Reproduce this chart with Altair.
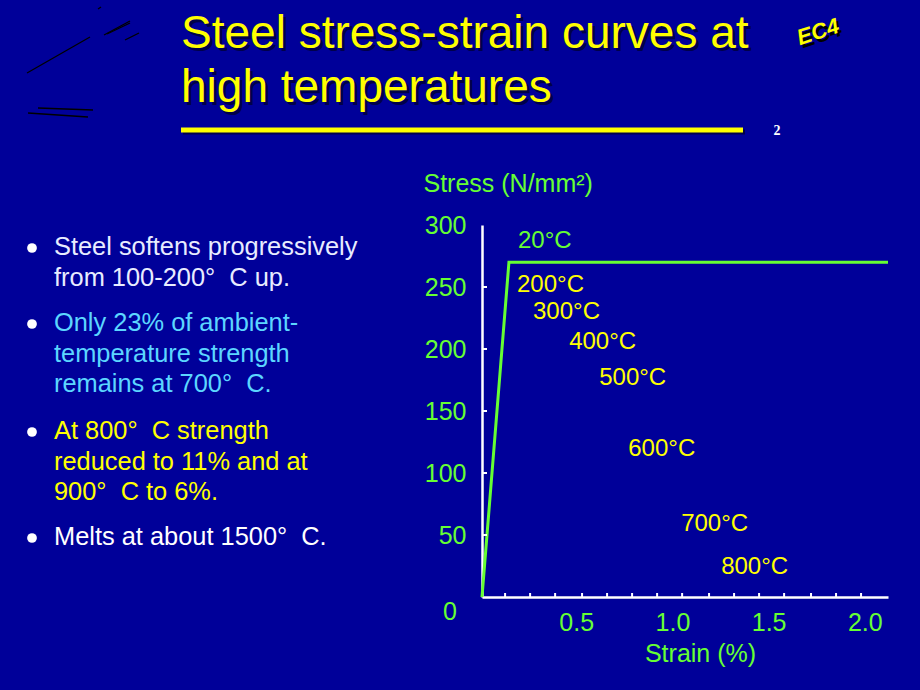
import altair as alt
import pandas as pd

# ---- data ----
strain = [0.0, 0.14, 2.11]
stress = [0, 270, 270]

temp_labels = ["20°C", "200°C", "300°C", "400°C", "500°C", "600°C", "700°C", "800°C"]
label_strain = [0.187, 0.182, 0.265, 0.453, 0.609, 0.760, 1.035, 1.243]
label_stress = [287, 252, 230, 206, 177, 119, 59, 24]

x_label_values = [0.5, 1.0, 1.5, 2.0]
y_label_values = [0, 50, 100, 150, 200, 250, 300]
x_minor_ticks = [0.12, 0.25, 0.38, 0.52, 0.65, 0.78, 0.91, 1.04, 1.18, 1.31, 1.44, 1.57, 1.71, 1.84, 1.97]
y_minor_ticks = [50, 100, 150, 200, 250]

title_lines = ["Steel stress-strain curves at", "high temperatures"]
bullets = [
    ["Steel softens progressively", "from 100-200°\u00a0\u00a0C up."],
    ["Only 23% of ambient-", "temperature strength", "remains at 700°\u00a0\u00a0C."],
    ["At 800°\u00a0\u00a0C strength", "reduced to 11% and at", "900°\u00a0\u00a0C to 6%."],
    ["Melts at about 1500°\u00a0\u00a0C."],
]

# ---- layout ----
OX, OY = 482, 225          # plot origin in page pixels
W, H = 406, 372
BG = "#000099"
GREEN = "#66FF33"
YELLOW = "#FFFF00"
FONT = "Liberation Sans"
XS = alt.Scale(domain=[0, 2.11], nice=False)
YS = alt.Scale(domain=[0, 300], nice=False)


def one():
    return pd.DataFrame({"k": [0]})


def txt(s, px, py, **kw):
    return alt.Chart(pd.DataFrame({"t": [s]})).mark_text(**kw).encode(
        x=alt.value(px - OX), y=alt.value(py - OY), text="t:N")


def seg(x1, y1, x2, y2, **kw):
    return alt.Chart(one()).mark_rule(**kw).encode(
        x=alt.value(x1 - OX), x2=alt.value(x2 - OX),
        y=alt.value(y1 - OY), y2=alt.value(y2 - OY))


layers = []

# main curve with axes
curve = pd.DataFrame({"strain": strain, "stress": stress})
layers.append(
    alt.Chart(curve).mark_line(color=GREEN, strokeWidth=3).encode(
        x=alt.X("strain:Q", scale=XS, axis=alt.Axis(
            values=x_label_values, format=".1f", ticks=False, grid=False,
            domainColor="white", domainWidth=2.5,
            labelColor=GREEN, labelFont=FONT, labelFontSize=25, labelPadding=13,
            labelOffset=-2,
            title="Strain (%)", titleColor=GREEN, titleFont=FONT, titleFontSize=25,
            titleFontWeight="normal", titleX=218, titleY=56, titleBaseline="middle",
            titleAlign="center")),
        y=alt.Y("stress:Q", scale=YS, axis=alt.Axis(
            values=y_label_values, ticks=False, grid=False,
            domainColor="white", domainWidth=2.5,
            labelColor=GREEN, labelFont=FONT, labelFontSize=25, labelPadding=16,
            labelExpr="datum.value === 0 ? '' : datum.label",
            title="Stress (N/mm²)", titleColor=GREEN, titleFont=FONT, titleFontSize=25,
            titleFontWeight="normal", titleAngle=0, titleAlign="left",
            titleBaseline="middle", titleX=-59, titleY=-42)),
        order="strain:Q",
    )
)

# the "0" stress label sits lower-left of the origin in the reference
layers.append(
    alt.Chart(pd.DataFrame({"stress": [0]})).mark_text(
        align="right", baseline="middle", font=FONT, fontSize=25, color=GREEN, dx=-25, dy=15).encode(
        y=alt.Y("stress:Q", scale=YS), x=alt.value(0), text="stress:Q"))

# inside ticks
layers.append(
    alt.Chart(pd.DataFrame({"strain": x_minor_ticks})).mark_rule(color="white", strokeWidth=2).encode(
        x=alt.X("strain:Q", scale=XS), y=alt.value(H - 4), y2=alt.value(H)))
layers.append(
    alt.Chart(pd.DataFrame({"stress": y_minor_ticks})).mark_rule(color="white", strokeWidth=2).encode(
        y=alt.Y("stress:Q", scale=YS), x=alt.value(0), x2=alt.value(5)))

# temperature labels
lab = pd.DataFrame({"strain": label_strain, "stress": label_stress, "temp": temp_labels})
layers.append(
    alt.Chart(lab).mark_text(align="left", baseline="middle", font=FONT, fontSize=24).encode(
        x=alt.X("strain:Q", scale=XS),
        y=alt.Y("stress:Q", scale=YS),
        text="temp:N",
        color=alt.condition("datum.temp === '20°C'", alt.value(GREEN), alt.value(YELLOW)),
    )
)

# title with shadow
title_base = [48, 102]
for s, by in zip(title_lines, title_base):
    layers.append(txt(s, 184, by + 3, align="left", baseline="alphabetic", font=FONT,
                      fontSize=46, color="#00004A"))
    layers.append(txt(s, 181, by, align="left", baseline="alphabetic", font=FONT,
                      fontSize=46, color=YELLOW))

# underline
layers.append(seg(183, 132, 745, 132, color="#00004A", strokeWidth=5))
layers.append(seg(181, 130, 743, 130, color=YELLOW, strokeWidth=5))

# slide number and EC4 logo
layers.append(txt("2", 777, 131, align="center", baseline="middle", font="Liberation Serif",
                  fontSize=14, fontWeight="bold", color="white"))
layers.append(txt("EC4", 819, 34, align="center", baseline="middle", font=FONT, fontSize=22,
                  fontWeight="bold", fontStyle="italic", angle=342, color="black", dx=1.5, dy=1.5))
layers.append(txt("EC4", 818, 32, align="center", baseline="middle", font=FONT, fontSize=22,
                  fontWeight="bold", fontStyle="italic", angle=342, color=YELLOW))

# decorative black strokes
for (a, b, c, d) in [(27, 73, 90, 37), (98, 9, 101, 7), (104, 35, 130, 21), (107, 34, 130, 23),
                     (125, 40, 139, 33), (38, 108, 93, 110), (28, 113, 88, 117)]:
    layers.append(seg(a, b, c, d, color="black", strokeWidth=1.3))

# bullets
bullet_colors = ["#E8ECFF", "#5CD6FF", YELLOW, "#FFFFFF"]
bullet_tops = [247, 323, 431, 537]
for lines, col, top in zip(bullets, bullet_colors, bullet_tops):
    layers.append(alt.Chart(one()).mark_circle(color="white", opacity=1, size=95).encode(
        x=alt.value(32 - OX), y=alt.value(top + 1 - OY)))
    for i, s in enumerate(lines):
        layers.append(txt(s, 54, top + i * 30.7, align="left", baseline="middle", font=FONT,
                          fontSize=25.4, color=col))

chart = alt.layer(*layers).properties(
    width=W, height=H,
    padding={"left": OX, "top": OY, "right": 920 - OX - W, "bottom": 690 - OY - H},
    autosize=alt.AutoSizeParams(type="none"),
    background=BG,
).configure_view(stroke=None)

chart.save("out.html", embed_options={"renderer": "svg", "actions": False})
